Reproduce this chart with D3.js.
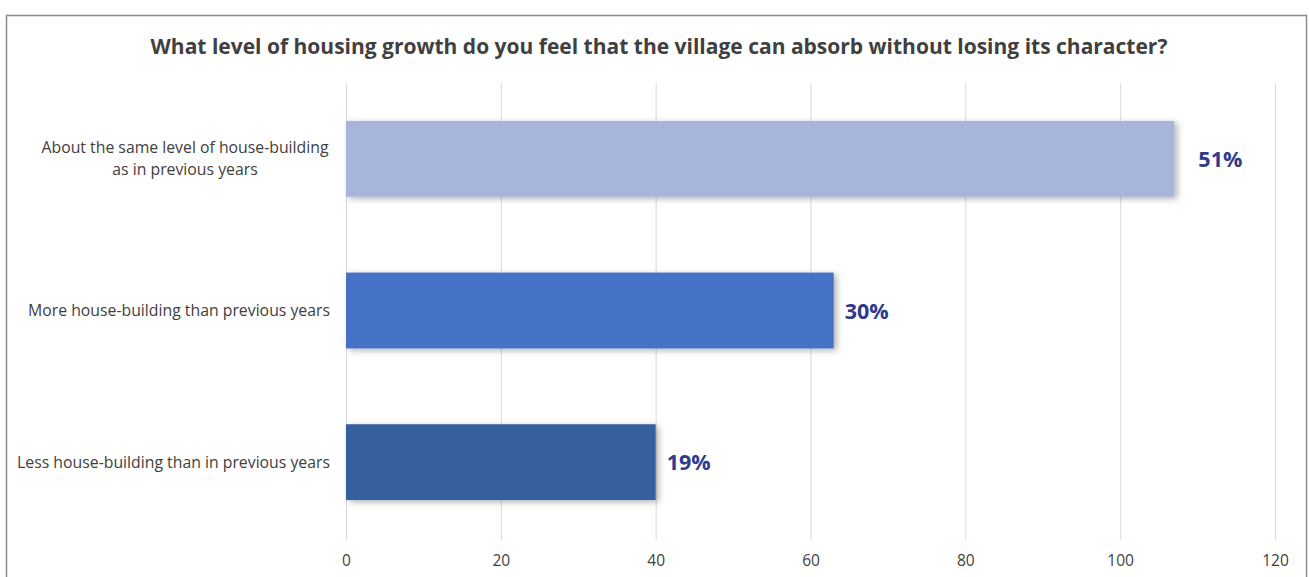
<!DOCTYPE html>
<html><head><meta charset="utf-8">
<script src="https://cdn.jsdelivr.net/npm/d3@7"></script>
<style>body{margin:0;background:#fff}svg{display:block}</style>
</head><body>
<script>
const title = "What level of housing growth do you feel that the village can absorb without losing its character?";
const categories = [
  ["About the same level of house-building", "as in previous years"],
  ["More house-building than previous years"],
  ["Less house-building than in previous years"]
];
const values = [107, 63, 40];
const dataLabels = ["51%", "30%", "19%"];
const barColors = ["#A7B5DA", "#4472C4", "#355E9F"];
const ticks = [0, 20, 40, 60, 80, 100, 120];

const W = 1309, H = 577;
const svg = d3.select("body").append("svg").attr("width", W).attr("height", H);
const defs = svg.append("defs");
const f = defs.append("filter").attr("id","sh").attr("x","-10%").attr("y","-20%").attr("width","130%").attr("height","150%");
f.append("feDropShadow").attr("dx",3).attr("dy",2).attr("stdDeviation",3).attr("flood-color","#000").attr("flood-opacity",0.3);

svg.append("rect").attr("x",6.5).attr("y",15.5).attr("width",1300).attr("height",600)
  .attr("fill","#fff").attr("stroke","#8c8c8c").attr("stroke-width",1.5);

svg.append("text").attr("x",659).attr("y",54).attr("text-anchor","middle")
  .attr("font-family","'Open Sans', sans-serif").attr("font-weight","bold").attr("font-size",21)
  .attr("fill","#404040").text(title);

const x = d3.scaleLinear().domain([0,120]).range([346,1275]);
const y = d3.scaleBand().domain(d3.range(categories.length)).range([83,538]).paddingInner(0.5).paddingOuter(0.25);

const grid = svg.append("g");
grid.selectAll("line").data(ticks).join("line")
  .attr("x1",d=>x(d)+0.5).attr("x2",d=>x(d)+0.5).attr("y1",83).attr("y2",540)
  .attr("stroke","#d9d9d9").attr("stroke-width",1);

const xAxis = svg.append("g").attr("transform","translate(0,540)")
  .call(d3.axisBottom(x).tickValues(ticks).tickSize(0).tickPadding(15));
xAxis.select(".domain").remove();
xAxis.selectAll("text").attr("font-family","'Open Sans', sans-serif").attr("font-size",15.5).attr("fill","#404040");

svg.append("g").selectAll("rect").data(values).join("rect")
  .attr("x",x(0)).attr("y",(d,i)=>y(i)).attr("width",d=>x(d)-x(0)).attr("height",y.bandwidth())
  .attr("fill",(d,i)=>barColors[i]).attr("filter","url(#sh)");

const lab = svg.append("g").selectAll("text").data(categories).join("text")
  .attr("text-anchor","end").attr("font-family","'Open Sans', sans-serif").attr("font-size",15.8).attr("fill","#404040");
lab.each(function(lines,i){
  const t = d3.select(this);
  const cy = y(i)+y.bandwidth()/2;
  const lh = 22;
  lines.forEach((ln,k)=>{
    t.append("tspan").attr("x",330).attr("y",cy + (k-(lines.length-1)/2)*lh + 5.5).text(ln);
  });
});
lab.filter((d,i)=>categories[i].length>1).attr("text-anchor","middle")
  .selectAll("tspan").attr("x",185);

svg.append("g").selectAll("text").data(values).join("text")
  .attr("x",(d,i)=>x(d)+ (i===0?24:11)).attr("y",(d,i)=>y(i)+y.bandwidth()/2+8)
  .attr("font-family","'Open Sans', sans-serif").attr("font-weight","bold").attr("font-size",21.5)
  .attr("fill","#2E3A8C").text((d,i)=>dataLabels[i]);
</script>
</body></html>
